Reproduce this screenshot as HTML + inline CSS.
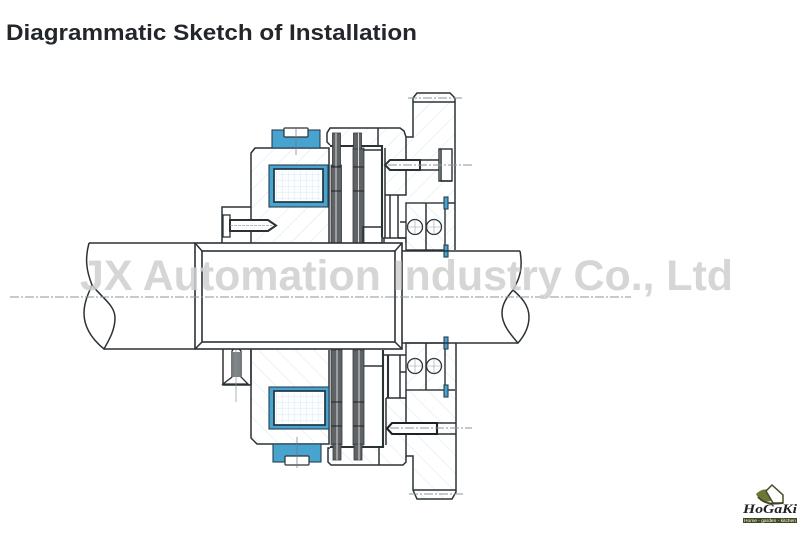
<!DOCTYPE html>
<html>
<head>
<meta charset="utf-8">
<style>
html,body{margin:0;padding:0;background:#fff;width:800px;height:537px;overflow:hidden}
svg{display:block}
.l{fill:none;stroke:#2c3236;stroke-width:1.5}
.t{fill:none;stroke:#2c3236;stroke-width:2.100}
.c{fill:none;stroke:#8d9699;stroke-width:1.100;stroke-dasharray:9 2 2 2}
.d{fill:#5f6366;stroke:#34393c;stroke-width:.8}
.b{fill:#4aa3cf;stroke:#254050;stroke-width:1.100}
</style>
</head>
<body>
<svg width="800" height="537" viewBox="0 0 800 537" xmlns="http://www.w3.org/2000/svg">
<defs>
<pattern id="hat" width="13" height="13" patternUnits="userSpaceOnUse" patternTransform="rotate(45)">
<rect width="13" height="13" fill="#fff"/><line x1="0" y1="0" x2="0" y2="13" stroke="#d6e8ea" stroke-width="1"/>
</pattern>
<pattern id="hat2" width="13" height="13" patternUnits="userSpaceOnUse" patternTransform="rotate(-45)">
<rect width="13" height="13" fill="#fff"/><line x1="0" y1="0" x2="0" y2="13" stroke="#d6e8ea" stroke-width="1"/>
</pattern>
<pattern id="grid" width="6" height="6" patternUnits="userSpaceOnUse">
<rect width="6" height="6" fill="#fbfdfe"/><path d="M0 0H6M0 0V6" stroke="#d3e5ee" stroke-width=".7"/>
</pattern>
<filter id="soft" filterUnits="userSpaceOnUse" x="0" y="0" width="800" height="537"><feGaussianBlur stdDeviation="0.25"/></filter>
</defs>
<rect width="800" height="537" fill="#fff"/>

<text x="6" y="40" font-family="'Liberation Sans',sans-serif" font-weight="700" font-size="22" fill="#23262a" textLength="411" lengthAdjust="spacingAndGlyphs">Diagrammatic Sketch of Installation</text>

<g filter="url(#soft)">
<!-- TOP HALF -->
<path d="M413 137V98L417 93H450L455 98V250H406V203L398 203V195H406V137Z" fill="url(#hat)" stroke="none"/>
<path class="l" d="M406 137H413V98L417 93H450L455 98V250"/>
<path class="c" d="M408 98H464"/>
<path class="l" d="M413 102H455"/>
<path d="M328 128H398L403 130L406 137V195H385V145H330L327 142V133Z" fill="url(#hat)"/>
<path class="l" d="M330 145L327 142V133L330 128H400L404 131L406 137V195H385"/>
<path class="t" d="M330 146H382V237"/>
<path class="l" d="M385 148V238M378 128V145"/>
<path class="l" d="M390 195V238M398 195V238M382 238H406V243M384 243V238"/>
<!-- main body -->
<path d="M251 153L255 148H329V243H251Z" fill="url(#hat)"/>
<path class="l" d="M251 243V153L255 148H329V243"/>
<rect x="272" y="130" width="48" height="18" class="b"/>
<rect x="284" y="128" width="24" height="9" rx="1" fill="#fff" stroke="#2c3236" stroke-width="1.2"/>
<path d="M296 128V155" stroke="#6d7a80" stroke-width=".7"/>
<rect x="269" y="165" width="59" height="42" class="b"/>
<rect x="274" y="169" width="49" height="33" fill="#fff" stroke="#1f3545" stroke-width="1.700"/>
<rect x="276" y="171" width="45" height="29" fill="url(#grid)"/>
<!-- discs -->
<rect x="331" y="165" width="10.500" height="78" class="d"/>
<rect x="332.500" y="133" width="8" height="33" class="d"/>
<path d="M336 133V243" stroke="#d8d8d8" stroke-width="1"/>
<rect x="353" y="148" width="11" height="95" class="d"/>
<rect x="353.500" y="133" width="8" height="16" class="d"/>
<path d="M358.500 133V243" stroke="#d8d8d8" stroke-width="1"/>
<path d="M331 167H341M331 191H341M353 167H364M353 191H364" stroke="#222" stroke-width="1"/>
<path class="l" d="M363 150H382M363 227H382V243H363Z"/>
<!-- left bolt -->
<path d="M222 243V207H251" class="l"/>
<rect x="223" y="215" width="7" height="22" fill="#fff" stroke="#2c3236" stroke-width="1.300"/>
<path d="M230 220H268L276 225.500L268 231H230Z" fill="#fff" stroke="#2c3236" stroke-width="2"/>
<path d="M230 225.500H272" stroke="#9aa3a6" stroke-width=".8" stroke-dasharray="3 1"/>
<!-- top bolt -->
<path d="M420 160H439M420 170H439" class="l"/>
<path d="M390 160H420V170H390L385 165Z" fill="#fff" stroke="#2c3236" stroke-width="2"/>
<rect x="439" y="149" width="13" height="32" fill="#fff" stroke="#2c3236" stroke-width="1.400"/>
<path d="M441 149V181H452" class="l"/>
<path class="c" d="M388 165H472"/>
<!-- bearing top -->
<rect x="406" y="203" width="39" height="47" fill="url(#hat2)" stroke="#2c3236" stroke-width="1.400"/>
<path class="l" d="M426 203V250M400 222H406M398 238H406M448 203H455"/>
<circle cx="415" cy="227" r="7.500" fill="#fff" stroke="#2c3236" stroke-width="1.300"/>
<circle cx="434" cy="227" r="7.500" fill="#fff" stroke="#2c3236" stroke-width="1.300"/>
<path d="M415 219.500V234.500M407.500 227H422.500M434 219.500V234.500M426.500 227H441.500" stroke="#9aa3a6" stroke-width=".6"/>
<rect x="444" y="197" width="4" height="12" class="b"/>
<rect x="444" y="245" width="4" height="12" class="b"/>

<!-- BOTTOM HALF -->
<path d="M413 456V490L417 499H452L456 492V343H406V390L398 390V398H386V445H330L328 448V462L331 465H403L406 462V456Z" fill="url(#hat2)"/>
<path class="l" d="M406 390V398M386 398H406V456H413V490L417 499H452L456 492V343"/>
<path class="l" d="M413 490H456"/>
<path class="c" d="M409 494H464"/>
<path class="l" d="M330 448H328V462L331 465H403L406 462V456M379 448V465"/>
<path class="t" d="M330 447H383V350"/>
<path class="l" d="M386 398V445M400 355V398M383 355H406"/>
<path class="t" d="M388 355V398"/>
<path class="l" d="M364 366H383"/>
<!-- main body bottom -->
<path d="M251 350H329V444H257L251 438Z" fill="url(#hat2)"/>
<path class="l" d="M251 350V438L257 444H329V350"/>
<rect x="273" y="444" width="48" height="18" class="b"/>
<rect x="285" y="456" width="24" height="9" rx="1" fill="#fff" stroke="#2c3236" stroke-width="1.2"/>
<path d="M297 437V468" stroke="#6d7a80" stroke-width=".7"/>
<rect x="269" y="387" width="60" height="42" class="b"/>
<rect x="274" y="391" width="51" height="34" fill="#fff" stroke="#1f3545" stroke-width="1.700"/>
<rect x="276" y="393" width="47" height="30" fill="url(#grid)"/>
<!-- discs bottom -->
<rect x="331" y="350" width="11" height="95" class="d"/>
<rect x="333" y="444" width="8" height="16" class="d"/>
<path d="M337 350V460" stroke="#d8d8d8" stroke-width="1"/>
<rect x="353" y="350" width="11" height="95" class="d"/>
<rect x="354" y="444" width="8" height="16" class="d"/>
<path d="M359 350V460" stroke="#d8d8d8" stroke-width="1"/>
<path d="M331 402H342M331 426H342M353 402H364M353 426H364" stroke="#222" stroke-width="1"/>
<!-- countersunk screw -->
<path class="l" d="M223 349V385H251M251 349V385"/>
<path d="M236 346L241 351V377L248 384H223L232 377V351Z" fill="#fff" stroke="#2c3236" stroke-width="1.300"/>
<rect x="233" y="352" width="7" height="25" fill="#7c8184"/>
<path d="M236 335V402" stroke="#8a9498" stroke-width=".7"/>
<!-- bolt bottom -->
<path class="l" d="M437 423H456M437 434H456"/>
<path d="M392 423H437V434H392L387 428.500Z" fill="#fff" stroke="#1f2326" stroke-width="2.100"/>
<path class="c" d="M390 428H472"/>
<!-- bearing bottom -->
<rect x="406" y="343" width="39" height="47" fill="url(#hat)" stroke="#2c3236" stroke-width="1.400"/>
<path class="l" d="M426 343V390M400 372H406M448 390H455"/>
<circle cx="415" cy="366" r="7.500" fill="#fff" stroke="#2c3236" stroke-width="1.300"/>
<circle cx="434" cy="366" r="7.500" fill="#fff" stroke="#2c3236" stroke-width="1.300"/>
<path d="M415 358.500V373.500M407.500 366H422.500M434 358.500V373.500M426.500 366H441.500" stroke="#9aa3a6" stroke-width=".6"/>
<rect x="444" y="337" width="4" height="12" class="b"/>
<rect x="444" y="385" width="4" height="12" class="b"/>

<!-- SHAFT -->
<path class="l" d="M89 243H195M104 349H195"/>
<path class="l" d="M89 243C85 258 86 270 92 285C102 298 115 305 115 318C115 330 109 340 104 349C93 340 84 328 84 313C84 303 88 294 92 285"/>
<path class="l" d="M402 251H520M402 343H518"/>
<path class="l" d="M520 251C523 268 520 278 513 290C507 297 502 304 502 313C502 325 511 335 518 343C525 335 529 327 529 317C529 305 521 297 513 290"/>
<rect x="195" y="243" width="207" height="106" fill="#fff" stroke="#2c3236" stroke-width="1.600"/>
<rect x="202" y="251" width="193" height="91" fill="#fff" stroke="#2c3236" stroke-width="1.600"/>
<path class="l" d="M195 243L202 251M402 243L395 251M195 349L202 342M402 349L395 342"/>
<path class="c" d="M10 297H631"/>
</g>

<text x="80" y="290" font-family="'Liberation Sans',sans-serif" font-weight="700" font-size="43" fill="#cfcfcf" fill-opacity=".85" textLength="653" lengthAdjust="spacing">JX Automation Industry Co., Ltd</text>

<!-- LOGO -->
<g filter="url(#soft)">
<path d="M756 494C763 487 772 488 776 496C771 504 761 504 756 494Z" fill="#6b7a35"/>
<path d="M766 491L772 485L783 495V503H773Z" fill="#fff" stroke="#4a4a2a" stroke-width="1.500"/>
<path d="M758 497C765 505 775 504 783 503" fill="none" stroke="#3f3f22" stroke-width="1.700"/>
</g>
<text x="743" y="513" font-family="'Liberation Serif',serif" font-weight="700" font-style="italic" font-size="12.500" fill="#222" textLength="54" lengthAdjust="spacingAndGlyphs">HoGaKi</text>
<rect x="743" y="518" width="54" height="5" fill="#3f4a22"/>
<text x="744" y="522" font-family="'Liberation Sans',sans-serif" font-size="4.500" fill="#fff" textLength="52" lengthAdjust="spacingAndGlyphs">Home - garden - kitchen</text>
</svg>
</body>
</html>
